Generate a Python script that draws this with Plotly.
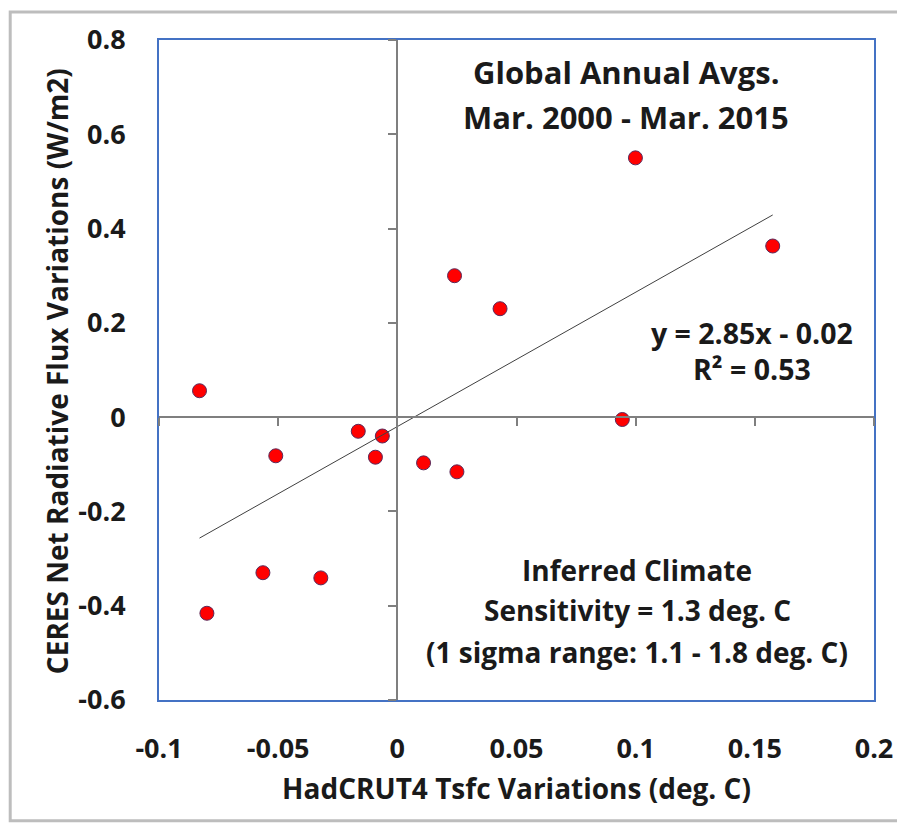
import plotly.graph_objects as go

# ---- data ----
temp_var = [-0.0830, -0.0510, -0.0164, -0.0063, -0.0092, 0.0110, 0.0250,
            -0.0564, -0.0321, -0.0799, 0.0240, 0.0431, 0.0944, 0.0999, 0.1575]
flux_var = [0.056, -0.082, -0.030, -0.040, -0.085, -0.097, -0.116,
            -0.330, -0.341, -0.416, 0.300, 0.230, -0.005, 0.550, 0.363]

fit_slope = 2.85
fit_intercept = -0.02

x_tickvals = [-0.1, -0.05, 0, 0.05, 0.1, 0.15, 0.2]
x_ticktext = ["-0.1", "-0.05", "0", "0.05", "0.1", "0.15", "0.2"]
y_tickvals = [0.8, 0.6, 0.4, 0.2, 0, -0.2, -0.4, -0.6]
y_ticktext = ["0.8", "0.6", "0.4", "0.2", "0", "-0.2", "-0.4", "-0.6"]

x_range = [-0.1, 0.2]
y_range = [-0.6, 0.8]

x_title = "HadCRUT4 Tsfc Variations (deg. C)"
y_title = "CERES Net Radiative Flux Variations (W/m2)"
title_lines = ["Global Annual Avgs.", "Mar. 2000 - Mar. 2015"]
eq_lines = ["y = 2.85x - 0.02", "R² = 0.53"]
sens_lines = ["Inferred Climate", "Sensitivity = 1.3 deg. C",
              "(1 sigma range: 1.1 - 1.8 deg. C)"]

FONT = "Open Sans"
OFF = 8  # page body margin
W, H = 905 - OFF, 829 - OFF
L, R, T, B = 159 - OFF, 30, 38 - OFF, 129

# trendline endpoints from data extent
x_lo, x_hi = min(temp_var), max(temp_var)
trend_x = [x_lo, x_hi]
trend_y = [fit_slope * v + fit_intercept for v in trend_x]

fig = go.Figure()

fig.add_trace(go.Scatter(
    x=trend_x, y=trend_y, mode="lines",
    line=dict(color="#404040", width=1),
    xaxis="x2", yaxis="y2", hoverinfo="skip", showlegend=False))

fig.add_trace(go.Scatter(
    x=temp_var, y=flux_var, mode="markers",
    marker=dict(size=14, color="#FF0000", line=dict(color="#5a2a5a", width=1)),
    showlegend=False))

x0_pos = (0 - x_range[0]) / (x_range[1] - x_range[0])
y0_pos = (0 - y_range[0]) / (y_range[1] - y_range[0])

INK = "#1a1a1a"
tickfont = dict(family=FONT, size=27, color=INK, weight="bold")

fig.update_layout(
    width=W, height=H,
    margin=dict(l=L, r=R, t=T, b=B),
    paper_bgcolor="white", plot_bgcolor="white",
    xaxis=dict(
        range=x_range, tickvals=x_tickvals, ticktext=x_ticktext,
        showgrid=False, zeroline=False,
        showline=True, linecolor="#4472C4", linewidth=2, mirror=True,
        ticks="outside", ticklen=24, tickcolor="rgba(0,0,0,0)",
        tickfont=tickfont,
        title=dict(text=x_title, standoff=14,
                   font=dict(family=FONT, size=28, color=INK, weight="bold")),
    ),
    yaxis=dict(
        range=y_range, tickvals=y_tickvals, ticktext=y_ticktext,
        showgrid=False, zeroline=False,
        showline=True, linecolor="#4472C4", linewidth=2, mirror=True,
        ticks="outside", ticklen=26, tickcolor="rgba(0,0,0,0)",
        tickfont=tickfont,
    ),
    xaxis2=dict(
        range=x_range, overlaying="x", anchor="free", position=y0_pos,
        tickvals=x_tickvals, showticklabels=False,
        showgrid=False, zeroline=False,
        showline=True, linecolor="#7f7f7f", linewidth=2,
        ticks="outside", ticklen=8, tickwidth=2, tickcolor="#7f7f7f",
    ),
    yaxis2=dict(
        range=y_range, overlaying="y", anchor="free", position=x0_pos,
        tickvals=y_tickvals, showticklabels=False,
        showgrid=False, zeroline=False,
        showline=True, linecolor="#7f7f7f", linewidth=2,
        ticks="outside", ticklen=8, tickwidth=2, tickcolor="#7f7f7f",
    ),
)


def px_to_paper(px, py):
    px -= OFF
    py -= OFF
    return (px - L) / (W - L - R), 1 - (py - T) / (H - T - B)


def add_text(text, px, py, size, angle=0):
    xp, yp = px_to_paper(px, py)
    fig.add_annotation(text=text, x=xp, y=yp, xref="paper", yref="paper",
                       showarrow=False, xanchor="center", yanchor="middle",
                       textangle=angle,
                       font=dict(family=FONT, size=size, color=INK, weight="bold"))


for t, py in zip(title_lines, [70, 115]):
    add_text(t, 627, py, 31)
for t, py in zip(eq_lines, [332, 368]):
    add_text(t, 753, py, 28.5)
for t, py in zip(sens_lines, [570, 610, 652]):
    add_text(t, 638, py, 28)

# y-axis title placed beside the tick labels
add_text(y_title, 57, 370, 28, angle=-90)

# outer light-grey frame of the picture
fx0, fy0 = px_to_paper(10, 10)
fx1, fy1 = px_to_paper(915, 821)
fig.add_shape(type="rect", xref="paper", yref="paper",
              x0=fx0, y0=fy1, x1=fx1, y1=fy0,
              line=dict(color="#bdbdbd", width=3), layer="above")

fig.write_html("out.html")
